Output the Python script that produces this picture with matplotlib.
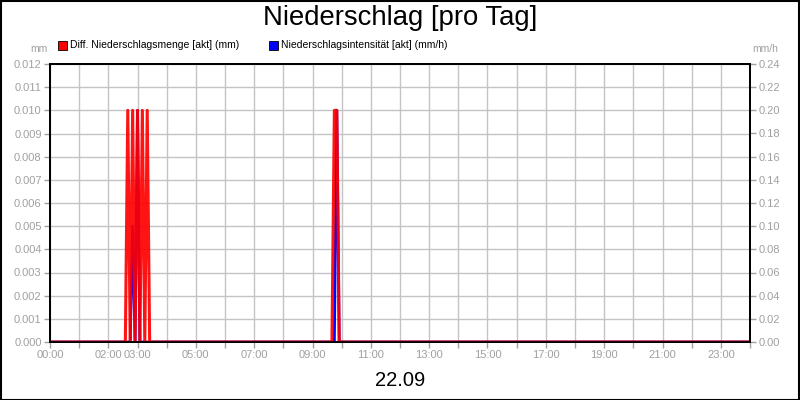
import matplotlib
matplotlib.use("Agg")
import matplotlib.pyplot as plt
from matplotlib.patches import Rectangle

plt.rcParams['font.family'] = ['Liberation Sans', 'DejaVu Sans']

# ---- data ----
red_times = ["00:00", "02:35", "02:40", "02:45", "02:50", "02:55", "03:00", "03:05",
             "03:10", "03:15", "03:20", "03:25", "09:40", "09:45", "09:50", "09:55", "24:00"]
red_values = [0, 0, 0.01, 0, 0.01, 0, 0.01, 0, 0.01, 0, 0.01, 0, 0, 0.01, 0.01, 0, 0]

blue_times = ["00:00", "02:45", "02:50", "02:55", "03:00", "03:05",
              "09:45", "09:50", "09:55", "24:00"]
blue_values = [0, 0, 0.10, 0, 0.20, 0, 0, 0.20, 0, 0]

x_tick_hours = list(range(0, 25))
x_label_hours = [0, 2, 3, 5, 7, 9, 11, 13, 15, 17, 19, 21, 23]
left_ticks = [i * 0.001 for i in range(13)]
right_ticks = [i * 0.02 for i in range(13)]

title = "Niederschlag [pro Tag]"
date_label = "22.09"
legend_red = "Diff. Niederschlagsmenge [akt] (mm)"
legend_blue = "Niederschlagsintensität [akt] (mm/h)"


def to_h(t):
    h, m = t.split(":")
    return int(h) + int(m) / 60.0


rx = [to_h(t) for t in red_times]
bx = [to_h(t) for t in blue_times]

W, H = 800, 400
fig = plt.figure(figsize=(8, 4), dpi=100)
fig.patch.set_facecolor("white")

ax = fig.add_axes([50 / W, 1 - 342 / H, 700 / W, 278 / H])
ax2 = ax.twinx()   # right axis, mm/h (blue)
ax3 = ax.twinx()   # same scale as left, for red on top

gray = "#a0a0a0"
gridc = "#c4c4c4"

ax.set_xlim(0, 24)
ax.set_ylim(0, 0.012)
ax3.set_ylim(0, 0.012)
ax2.set_ylim(0, 0.24)

ax.set_xticks(x_tick_hours)
ax.set_xticklabels(["%02d:00" % h if h in x_label_hours else "" for h in x_tick_hours])
ax.set_yticks(left_ticks)
ax.set_yticklabels(["%.3f" % v for v in left_ticks])
ax2.set_yticks(right_ticks)
ax2.set_yticklabels(["%.2f" % v for v in right_ticks])
ax3.set_yticks([])
ax3.yaxis.set_visible(False)

ax.grid(True, color=gridc, linewidth=1.0)
ax.set_axisbelow(True)

for a in (ax, ax2, ax3):
    a.tick_params(colors=gray, labelcolor=gray, labelsize=8, length=4, width=1, pad=2)
    for s in a.spines.values():
        s.set_color("black")
        s.set_linewidth(1.2)

ax2.plot(bx, blue_values, color="#0000ff", linewidth=2.0)
ax3.plot(rx, red_values, color="#ff0000", linewidth=2.2, alpha=0.92)

# title and texts
fig.text(0.5, 1 - 18 / H, title, ha="center", va="center", fontsize=19.8, color="black")
fig.text(0.5, 1 - 380 / H, date_label, ha="center", va="center", fontsize=14.5, color="black")
fig.text(48 / W, 1 - 49 / H, "mm", ha="right", va="center", fontsize=7.5, color=gray)
fig.text(752 / W, 1 - 49 / H, "mm/h", ha="left", va="center", fontsize=7.5, color=gray)

# legend
for (x0, col, label) in [(58, "#ff0000", legend_red), (269, "#0000ff", legend_blue)]:
    fig.patches.append(Rectangle((x0 / W, 1 - 50 / H), 9 / W, 9 / H, transform=fig.transFigure,
                                 facecolor=col, edgecolor="black", linewidth=0.6))
    fig.text((x0 + 12) / W, 1 - 45.5 / H, label, ha="left", va="center", fontsize=7.5, color="black")

# outer border
fig.patches.append(Rectangle((0.5 / W, 0.5 / H), 1 - 1.5 / W, 1 - 1.5 / H, transform=fig.transFigure,
                             facecolor="none", edgecolor="black", linewidth=1.5))

fig.savefig("out.png", dpi=100)
